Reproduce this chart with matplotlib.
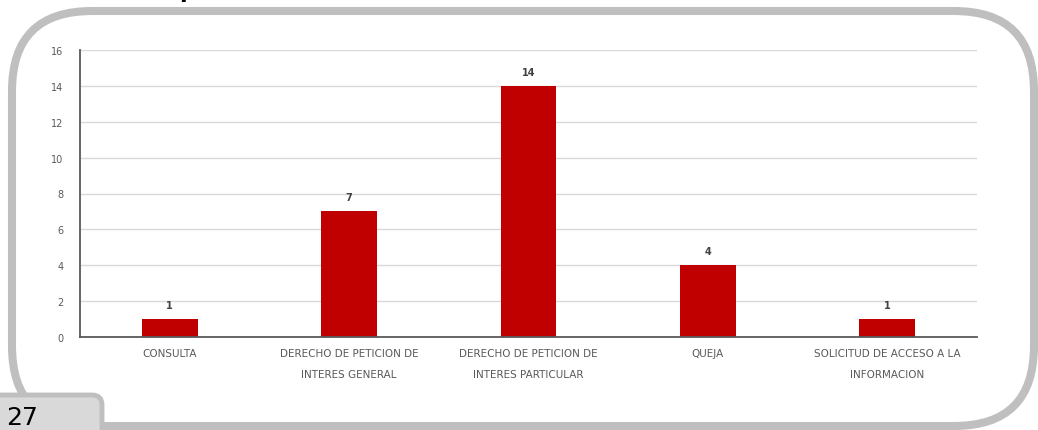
import matplotlib.pyplot as plt
from matplotlib.patches import FancyBboxPatch

# data
categorias = ['CONSULTA', 'DERECHO DE PETICION DE\nINTERES GENERAL',
              'DERECHO DE PETICION DE\nINTERES PARTICULAR', 'QUEJA',
              'SOLICITUD DE ACCESO A LA\nINFORMACION']
valores = [1, 7, 14, 4, 1]
yticks = [0, 2, 4, 6, 8, 10, 12, 14, 16]
pagina = '27'

W, H = 1038, 431
fig = plt.figure(figsize=(W / 100, H / 100), dpi=100)

# frame overlay in pixel coords
bg = fig.add_axes([0, 0, 1, 1], zorder=0)
bg.set_xlim(0, W)
bg.set_ylim(H, 0)
bg.axis('off')
frame = FancyBboxPatch((12, 12), 1022, 415, boxstyle='round,pad=0,rounding_size=80',
                       fc='white', ec='#bfbfbf', lw=5.8)
bg.add_patch(frame)
tab = FancyBboxPatch((-20, 396), 122, 60, boxstyle='round,pad=0,rounding_size=10',
                     fc='#d9d9d9', ec='#bfbfbf', lw=3.5)
bg.add_patch(tab)
bg.text(6, 430, pagina, fontsize=18, color='black', ha='left', va='bottom')

# cut-off title
fig.text(187 / W, 1 + 2 / H, 'p', ha='center', va='baseline', fontsize=16,
         fontweight='bold', color='black')

ax = fig.add_axes([80 / W, 1 - 338 / H, 897 / W, 287 / H], zorder=1)
ax.patch.set_alpha(0)
x = range(len(categorias))
ax.bar(x, valores, width=0.31, color='#c00000', zorder=2)
for xi, v in zip(x, valores):
    ax.text(xi, v + 0.5, str(v), ha='center', va='bottom', fontsize=7,
            color='#404040', fontweight='bold')

ax.set_xlim(-0.5, len(categorias) - 0.5)
ax.set_ylim(0, 16)
ax.set_yticks(yticks)
ax.set_xticks(list(x))
ax.set_xticklabels(categorias, fontsize=7.5, color='#595959', linespacing=2.3)
ax.tick_params(axis='y', labelsize=7, labelcolor='#595959', length=0, pad=12)
ax.tick_params(axis='x', length=0, pad=8)
ax.grid(axis='y', color='#d9d9d9', lw=1, zorder=0)
ax.set_axisbelow(True)
for s in ['top', 'right']:
    ax.spines[s].set_visible(False)
for s in ['left', 'bottom']:
    ax.spines[s].set_color('#595959')
    ax.spines[s].set_linewidth(1.3)

fig.savefig('out.png', dpi=100)
